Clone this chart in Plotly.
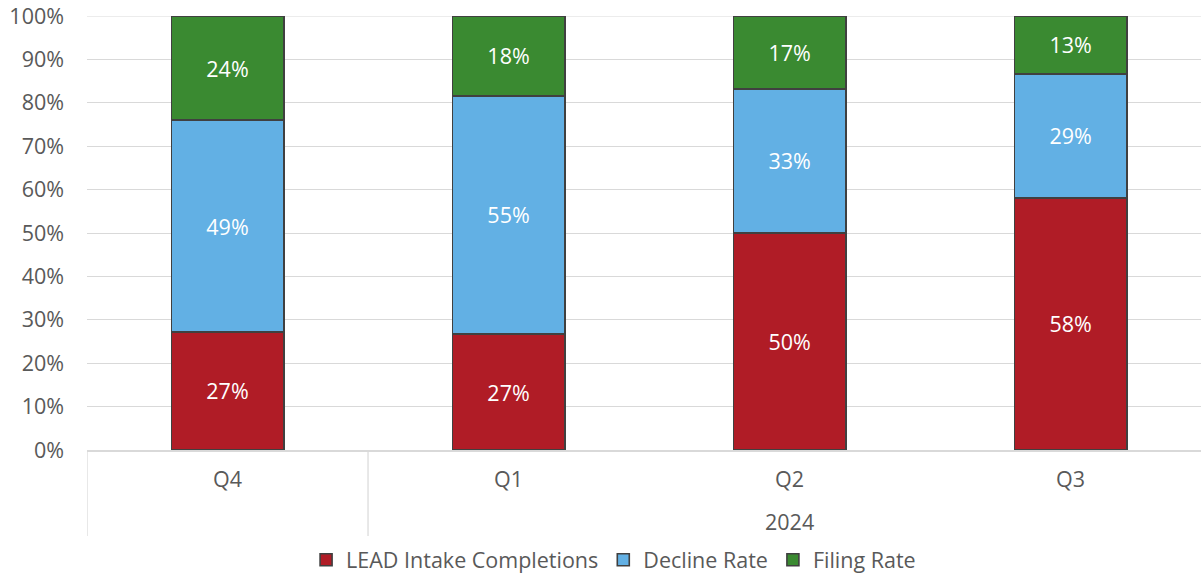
import plotly.graph_objects as go

quarters = ["Q4", "Q1", "Q2", "Q3"]
year_label = "2024"
lead_intake = [27.2, 26.7, 50.0, 58.1]
decline_rate = [48.8, 54.9, 33.2, 28.6]
filing_rate = [24.0, 18.4, 16.8, 13.3]
series_names = ["LEAD Intake Completions", "Decline Rate", "Filing Rate"]
colors = ["#B01C26", "#62B0E4", "#3A8A31"]
y_ticks = [0, 10, 20, 30, 40, 50, 60, 70, 80, 90, 100]

FONT = "Open Sans"
GRAY = "#595959"
FS = 21.5

fig = go.Figure()
for name, vals, col in zip(series_names, [lead_intake, decline_rate, filing_rate], colors):
    fig.add_trace(go.Bar(
        x=list(range(len(quarters))), y=vals, name=name,
        marker=dict(color=col, line=dict(color="#404040", width=1.6)),
        texttemplate="%{y:.0f}%", textposition="inside", insidetextanchor="middle",
        textfont=dict(color="white", size=FS, family=FONT),
        hoverinfo="skip",
    ))

fig.update_layout(
    barmode="stack", bargap=0.6,
    width=1201, height=575,
    margin=dict(l=87, r=0, t=16, b=125, autoexpand=False),
    plot_bgcolor="white", paper_bgcolor="white",
    font=dict(family=FONT, size=FS, color=GRAY),
    showlegend=True,
    legend=dict(orientation="h", x=0.4727, xanchor="center", y=-0.253, yanchor="middle",
                font=dict(size=FS, color=GRAY, family=FONT), traceorder="normal",
                itemwidth=30),
)

fig.update_xaxes(
    tickmode="array", tickvals=list(range(len(quarters))), ticktext=quarters,
    range=[-0.5, 3.464], showgrid=False, showline=True, linecolor="#d9d9d9", linewidth=1.5,
    ticks="", ticklabelstandoff=9, tickfont=dict(size=FS, color=GRAY, family=FONT),
    zeroline=False,
)
fig.update_yaxes(
    range=[0, 100], tickvals=y_ticks, ticktext=[f"{v}%" for v in y_ticks],
    showgrid=True, gridcolor="#d9d9d9", gridwidth=1, zeroline=False,
    ticklabelstandoff=22, ticklabeloverflow="allow",
    tickfont=dict(size=FS, color=GRAY, family=FONT),
)
# top gridline at 100% (drawn at plot edge)
fig.add_hline(y=100, line=dict(color="#d9d9d9", width=1), layer="below")

# group divider lines and group label (multi-level category axis)
for xv in [-0.5, 0.5]:
    fig.add_shape(type="line", xref="x", yref="paper", x0=xv, x1=xv, y0=0, y1=-0.198,
                  line=dict(color="#d9d9d9", width=1.2), layer="below")
fig.add_annotation(x=2, xref="x", y=0, yref="paper", yshift=-71, yanchor="middle",
                   text=year_label, showarrow=False,
                   font=dict(size=FS, color=GRAY, family=FONT))

fig.write_html("out.html", config={"displayModeBar": False},
               post_script="document.body.style.margin='0px';")
